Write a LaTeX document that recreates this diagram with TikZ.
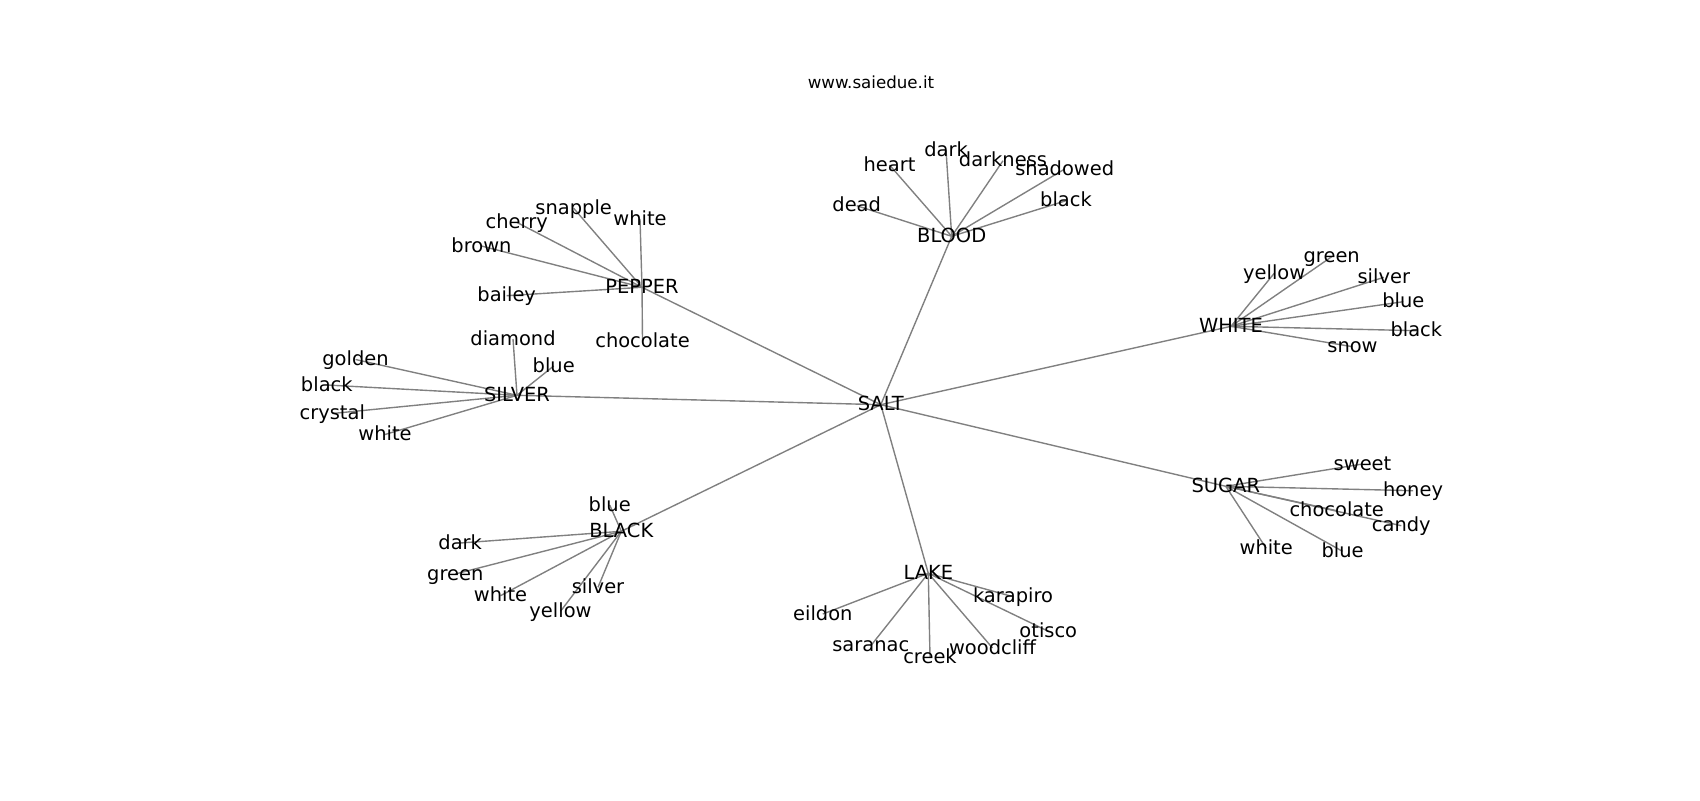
\documentclass[tikz,border=0pt]{standalone}
\usepackage{fontspec}
\setmainfont{DejaVu Sans}
\usetikzlibrary{backgrounds}
\tikzset{
  lbl/.style={inner sep=0pt, text height=12.2pt, text depth=3.36pt, anchor=center, font=\fontsize{14}{16}\selectfont},
  edge/.style={draw=black!50, line width=1pt}
}
\begin{document}
\begin{tikzpicture}[x=0.72pt,y=-0.72pt]
\useasboundingbox (0,0) rectangle (1700,800);
\node[font=\fontsize{12}{14}\selectfont, anchor=base, inner sep=0pt] (title) at (871,88) {www.saiedue.it};
% hub
\node[lbl] (salt) at (880.8,404.7) {SALT};
% BLOOD
\node[lbl] (blood) at (951.7,236.3) {BLOOD};
\node[lbl] (b-dead) at (856.7,205.7) {dead};
\node[lbl] (b-heart) at (889.5,165) {heart};
\node[lbl] (b-dark) at (946,150) {dark};
\node[lbl] (b-darkness) at (1003,160.7) {darkness};
\node[lbl] (b-shadowed) at (1064.7,169) {shadowed};
\node[lbl] (b-black) at (1066,200.7) {black};
% PEPPER
\node[lbl] (pepper) at (642,287.3) {PEPPER};
\node[lbl] (p-snapple) at (573.7,208.3) {snapple};
\node[lbl] (p-white) at (640,219) {white};
\node[lbl] (p-cherry) at (516.7,222.3) {cherry};
\node[lbl] (p-brown) at (481.5,246) {brown};
\node[lbl] (p-bailey) at (506.7,295.7) {bailey};
\node[lbl] (p-chocolate) at (642.5,341.3) {chocolate};
% SILVER
\node[lbl] (silver) at (517,395.3) {SILVER};
\node[lbl] (s-diamond) at (513,339) {diamond};
\node[lbl] (s-blue) at (553.7,366) {blue};
\node[lbl] (s-golden) at (355.5,359.5) {golden};
\node[lbl] (s-black) at (326.8,385) {black};
\node[lbl] (s-crystal) at (332.3,413.5) {crystal};
\node[lbl] (s-white) at (385,434.5) {white};
% WHITE
\node[lbl] (white) at (1231,326.3) {WHITE};
\node[lbl] (w-green) at (1331.7,256.7) {green};
\node[lbl] (w-yellow) at (1274.2,273.3) {yellow};
\node[lbl] (w-silver) at (1383.8,277.3) {silver};
\node[lbl] (w-blue) at (1403.3,301.7) {blue};
\node[lbl] (w-black) at (1416.3,330.7) {black};
\node[lbl] (w-snow) at (1352.5,346.7) {snow};
% SUGAR
\node[lbl] (sugar) at (1225.8,486.3) {SUGAR};
\node[lbl] (u-sweet) at (1362.5,464) {sweet};
\node[lbl] (u-honey) at (1413,490.7) {honey};
\node[lbl] (u-chocolate) at (1336.7,510.7) {chocolate};
\node[lbl] (u-candy) at (1401.3,525.7) {candy};
\node[lbl] (u-white) at (1266.2,548.3) {white};
\node[lbl] (u-blue) at (1342.5,551.3) {blue};
% BLACK
\node[lbl] (black) at (621.3,531.3) {BLACK};
\node[lbl] (k-blue) at (609.7,505) {blue};
\node[lbl] (k-dark) at (460.2,543) {dark};
\node[lbl] (k-green) at (455.3,574) {green};
\node[lbl] (k-white) at (500.5,595.7) {white};
\node[lbl] (k-silver) at (598,587.3) {silver};
\node[lbl] (k-yellow) at (560.5,611.3) {yellow};
% LAKE
\node[lbl] (lake) at (928.3,573.3) {LAKE};
\node[lbl] (l-karapiro) at (1013,596.7) {karapiro};
\node[lbl] (l-eildon) at (822.8,614) {eildon};
\node[lbl] (l-otisco) at (1048.3,631.3) {otisco};
\node[lbl] (l-saranac) at (870.8,645.7) {saranac};
\node[lbl] (l-creek) at (930,657.3) {creek};
\node[lbl] (l-woodcliff) at (992.5,648) {woodcliff};
\begin{scope}[on background layer]
\foreach \h in {blood,pepper,silver,white,sugar,black,lake}
  \draw[edge] (salt.center) -- (\h.center);
\foreach \l in {dead,heart,dark,darkness,shadowed,black}
  \draw[edge] (blood.center) -- (b-\l.center);
\foreach \l in {snapple,white,cherry,brown,bailey,chocolate}
  \draw[edge] (pepper.center) -- (p-\l.center);
\foreach \l in {diamond,blue,golden,black,crystal,white}
  \draw[edge] (silver.center) -- (s-\l.center);
\foreach \l in {green,yellow,silver,blue,black,snow}
  \draw[edge] (white.center) -- (w-\l.center);
\foreach \l in {sweet,honey,chocolate,candy,white,blue}
  \draw[edge] (sugar.center) -- (u-\l.center);
\foreach \l in {blue,dark,green,white,silver,yellow}
  \draw[edge] (black.center) -- (k-\l.center);
\foreach \l in {karapiro,eildon,otisco,saranac,creek,woodcliff}
  \draw[edge] (lake.center) -- (l-\l.center);
\end{scope}
\end{tikzpicture}
\end{document}
